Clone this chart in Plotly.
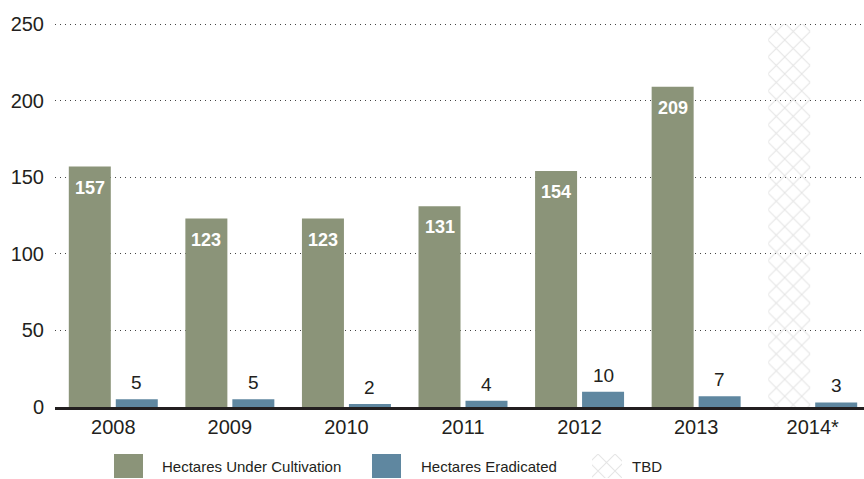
import plotly.graph_objects as go

# Hectares per year
years = ["2008", "2009", "2010", "2011", "2012", "2013", "2014*"]
under_cultivation = [157, 123, 123, 131, 154, 209, None]
eradicated = [5, 5, 2, 4, 10, 7, 3]
tbd_extent = [None, None, None, None, None, None, 250]
y_ticks = [0, 50, 100, 150, 200, 250]

legend_labels = ["Hectares Under Cultivation", "Hectares Eradicated", "TBD"]

GREEN = "#8b9479"
BLUE = "#5f87a0"
HATCH = "#c8c8c8"
INK = "#231f20"
FONT = "Liberation Sans, Arial, sans-serif"

W, H = 864, 479
ML, MT = 55, 23
PLOT_W = W - ML
PAPER_H = H - MT
X_RANGE = [-0.5, 6.44]
Y_RANGE = [0, 250.7]
CAT_PX = PLOT_W / (X_RANGE[1] - X_RANGE[0])
BARGAP = 0.194
BARGROUPGAP = 0.106
SLOT_PX = CAT_PX * (1 - BARGAP) / 2

HATCH_PATTERN = dict(shape="x", fgcolor=HATCH, bgcolor="rgba(0,0,0,0)",
                     size=12, solidity=0.16)

fig = go.Figure()

fig.add_trace(go.Bar(
    x=years, y=under_cultivation, name=legend_labels[0],
    marker=dict(color=GREEN, line=dict(width=0)),
    offsetgroup="a", showlegend=False, hoverinfo="skip",
))
fig.add_trace(go.Bar(
    x=years, y=tbd_extent, name=legend_labels[2],
    marker=dict(color="rgba(0,0,0,0)", line=dict(width=0), pattern=HATCH_PATTERN),
    offsetgroup="a", showlegend=False, hoverinfo="skip",
))
fig.add_trace(go.Bar(
    x=years, y=eradicated, name=legend_labels[1],
    marker=dict(color=BLUE, line=dict(width=0)),
    offsetgroup="b", showlegend=False, hoverinfo="skip",
))

# Value labels: white inside the cultivation bars, dark above the eradicated bars
annotations = []
for i, v in enumerate(under_cultivation):
    if v is None:
        continue
    annotations.append(dict(
        x=i, y=v, xref="x", yref="y", text=f"<b>{v}</b>", showarrow=False,
        xshift=-SLOT_PX / 2, yshift=-9, yanchor="top", xanchor="center",
        font=dict(family=FONT, size=18, color="white"),
    ))
for i, v in enumerate(eradicated):
    annotations.append(dict(
        x=i, y=v, xref="x", yref="y", text=str(v), showarrow=False,
        xshift=SLOT_PX / 2, yshift=4, yanchor="bottom", xanchor="center",
        font=dict(family=FONT, size=19, color=INK),
    ))

# Legend row drawn along the bottom
swatch_x = [128.5, 386.5, 607]
swatch_w = [29, 29, 30]
text_x = [160, 419, 630]
leg_colors = [GREEN, BLUE, "rgba(0,0,0,0)"]
for i in range(3):
    fig.add_trace(go.Bar(
        x=[swatch_x[i]], y=[1], width=[swatch_w[i]], xaxis="x2", yaxis="y2",
        marker=dict(color=leg_colors[i], line=dict(width=0),
                    pattern=HATCH_PATTERN if i == 2 else None),
        showlegend=False, hoverinfo="skip",
    ))
    annotations.append(dict(
        x=(text_x[i] - ML) / PLOT_W, y=(H - 466) / PAPER_H, xref="paper", yref="paper",
        text=legend_labels[i], showarrow=False, xanchor="left", yanchor="middle",
        font=dict(family=FONT, size=15, color=INK),
    ))

fig.update_layout(
    width=W, height=H,
    margin=dict(l=ML, r=0, t=MT, b=0, pad=0, autoexpand=False),
    paper_bgcolor="white", plot_bgcolor="white",
    barmode="group", bargap=BARGAP, bargroupgap=BARGROUPGAP,
    font=dict(family=FONT, color=INK),
    annotations=annotations,
    xaxis=dict(
        type="category", range=X_RANGE, showgrid=False, zeroline=False,
        showline=True, linecolor=INK, linewidth=3, ticks="", automargin=False,
        tickfont=dict(family=FONT, size=20, color=INK), fixedrange=True,
    ),
    yaxis=dict(
        domain=[(H - 407) / PAPER_H, 1], range=Y_RANGE, tickvals=y_ticks,
        showgrid=True, gridcolor="#444444", gridwidth=1, griddash="1px,4px",
        zeroline=False, showline=False, ticks="", ticklabelstandoff=10,
        automargin=False,
        tickfont=dict(family=FONT, size=20, color=INK), fixedrange=True,
    ),
    xaxis2=dict(domain=[0, 1], range=[ML, W], anchor="y2", visible=False,
                automargin=False),
    yaxis2=dict(domain=[1 / PAPER_H, 25 / PAPER_H], range=[0, 1], anchor="x2",
                visible=False, automargin=False),
)

fig.write_html("out.html")
